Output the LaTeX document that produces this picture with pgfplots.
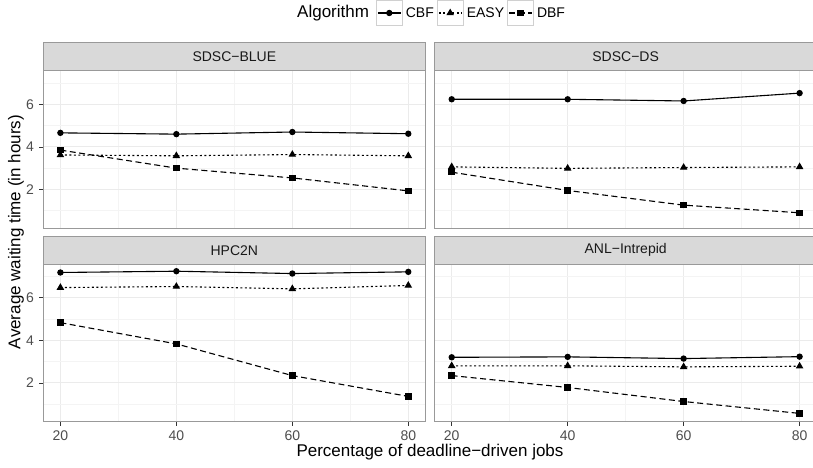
\documentclass[border=0pt]{standalone}
\usepackage{pgfplots}
\pgfplotsset{compat=1.18}
\usepackage{fontspec}
\setmainfont{Liberation Sans}
\definecolor{gridmaj}{HTML}{EBEBEB}
\definecolor{gridmin}{HTML}{F4F4F4}
\definecolor{border}{HTML}{999999}
\definecolor{stripbg}{HTML}{D9D9D9}
\definecolor{ticklab}{HTML}{4D4D4D}
\definecolor{tickcol}{HTML}{333333}
\definecolor{keybox}{HTML}{D0D0D0}

\pgfplotsset{
  panel/.style={
    scale only axis, width=382.7pt, height=157.5pt,
    xmin=17, xmax=83, ymin=0.17, ymax=7.58,
    xtick={20,40,60,80}, minor xtick={30,50,70},
    ytick={2,4,6}, minor ytick={1,3,5,7},
    grid=both,
    major grid style={draw=gridmaj, line width=1pt},
    minor grid style={draw=gridmin, line width=0.6pt},
    axis line style={draw=border, line width=0.9pt},
    tick align=outside, major tick length=4pt, minor tick length=0pt,
    xticklabels={}, yticklabels={},
    xtick pos=bottom, ytick pos=left,
    xtick style={draw=none}, ytick style={draw=none},
    /pgf/number format/assume math mode=true,
    every tick label/.append style={font=\fontsize{14}{16}\selectfont, text=ticklab, inner sep=0pt},
    xticklabel style={yshift=-5pt},
    yticklabel style={xshift=-5pt},
    clip=false,
  },
  leftticks/.style={yticklabels={2,4,6}, ytick style={draw=tickcol, line width=0.6pt}},
  bottomticks/.style={xticklabels={20,40,60,80}, xtick style={draw=tickcol, line width=0.6pt}},
  cbf/.style={black, solid, line width=1.1pt, mark=*, mark size=2.6pt, mark options={solid}},
  easy/.style={black, dash pattern=on 2pt off 2.5pt, line width=1.1pt, mark=triangle*, mark size=3.3pt, mark options={solid}},
  dbf/.style={black, dash pattern=on 6pt off 3.5pt, line width=1.1pt, mark=square*, mark size=2.7pt, mark options={solid}},
  keyimg/.style={legend image code/.code={
    \draw[draw=keybox, solid, line width=0.9pt, fill=white] (0pt,-12.2pt) rectangle (25.7pt,12.2pt);
    \draw[mark repeat=2, mark phase=2] plot coordinates {(1.5pt,0pt) (12.85pt,0pt) (24.2pt,0pt)};
  }},
}

\newcommand{\strip}[2]{%
  \draw[fill=stripbg, draw=border, line width=0.9pt] (#1.north west) rectangle ([yshift=28pt]#1.north east);
  \node[font=\fontsize{14}{16}\selectfont, text={black!90}] at ([yshift=14pt]#1.north) {#2};
}

\begin{document}
\begin{tikzpicture}[x=1pt,y=1pt]
\useasboundingbox (0pt,0pt) rectangle (813pt,467pt);
\clip (0pt,0pt) rectangle (813pt,467pt);

% Top-left: SDSC-BLUE
\begin{axis}[panel, leftticks, name=tl, at={(43pt,238.7pt)}, anchor=south west,
  legend columns=-1,
  legend style={draw=none, fill=none, inner sep=0pt, outer sep=0pt,
    at={(0.8701,1.367)}, anchor=west,
    font=\fontsize{14}{16}\selectfont,
    nodes={inner sep=0pt},
    /tikz/every odd column/.style={column sep=3.3pt},
    /tikz/every even column/.style={column sep=3pt}}]
\addplot[cbf, keyimg] coordinates {(20,4.66) (40,4.60) (60,4.70) (80,4.62)};
\addlegendentry{CBF}
\addplot[easy, keyimg] coordinates {(20,3.62) (40,3.58) (60,3.64) (80,3.58)};
\addlegendentry{EASY}
\addplot[dbf, keyimg] coordinates {(20,3.85) (40,3.00) (60,2.54) (80,1.93)};
\addlegendentry{DBF}
\end{axis}

% Top-right: SDSC-DS
\begin{axis}[panel, name=tr, at={(434.3pt,238.7pt)}, anchor=south west]
\addplot[cbf] coordinates {(20,6.24) (40,6.24) (60,6.16) (80,6.53)};
\addplot[easy] coordinates {(20,3.06) (40,2.99) (60,3.03) (80,3.06)};
\addplot[dbf] coordinates {(20,2.81) (40,1.95) (60,1.26) (80,0.90)};
\end{axis}

% Bottom-left: HPC2N
\begin{axis}[panel, leftticks, bottomticks, name=bl, at={(43pt,45.3pt)}, anchor=south west]
\addplot[cbf] coordinates {(20,7.19) (40,7.25) (60,7.14) (80,7.22)};
\addplot[easy] coordinates {(20,6.48) (40,6.53) (60,6.42) (80,6.58)};
\addplot[dbf] coordinates {(20,4.83) (40,3.83) (60,2.34) (80,1.36)};
\end{axis}

% Bottom-right: ANL-Intrepid
\begin{axis}[panel, bottomticks, name=br, at={(434.3pt,45.3pt)}, anchor=south west]
\addplot[cbf] coordinates {(20,3.20) (40,3.22) (60,3.14) (80,3.23)};
\addplot[easy] coordinates {(20,2.80) (40,2.80) (60,2.75) (80,2.78)};
\addplot[dbf] coordinates {(20,2.34) (40,1.78) (60,1.12) (80,0.56)};
\end{axis}

\strip{tl}{SDSC−BLUE}
\strip{tr}{SDSC−DS}
\strip{bl}{HPC2N}
\strip{br}{ANL−Intrepid}

\node[anchor=west, font=\fontsize{17}{20}\selectfont, inner sep=0pt] at (297pt,454pt) {Algorithm};
\node[font=\fontsize{17}{20}\selectfont, inner sep=0pt] at (430pt,15pt) {Percentage of deadline−driven jobs};
\node[font=\fontsize{17}{20}\selectfont, inner sep=0pt, rotate=90] at (16pt,235pt) {Average waiting time (in hours)};
\end{tikzpicture}
\end{document}
